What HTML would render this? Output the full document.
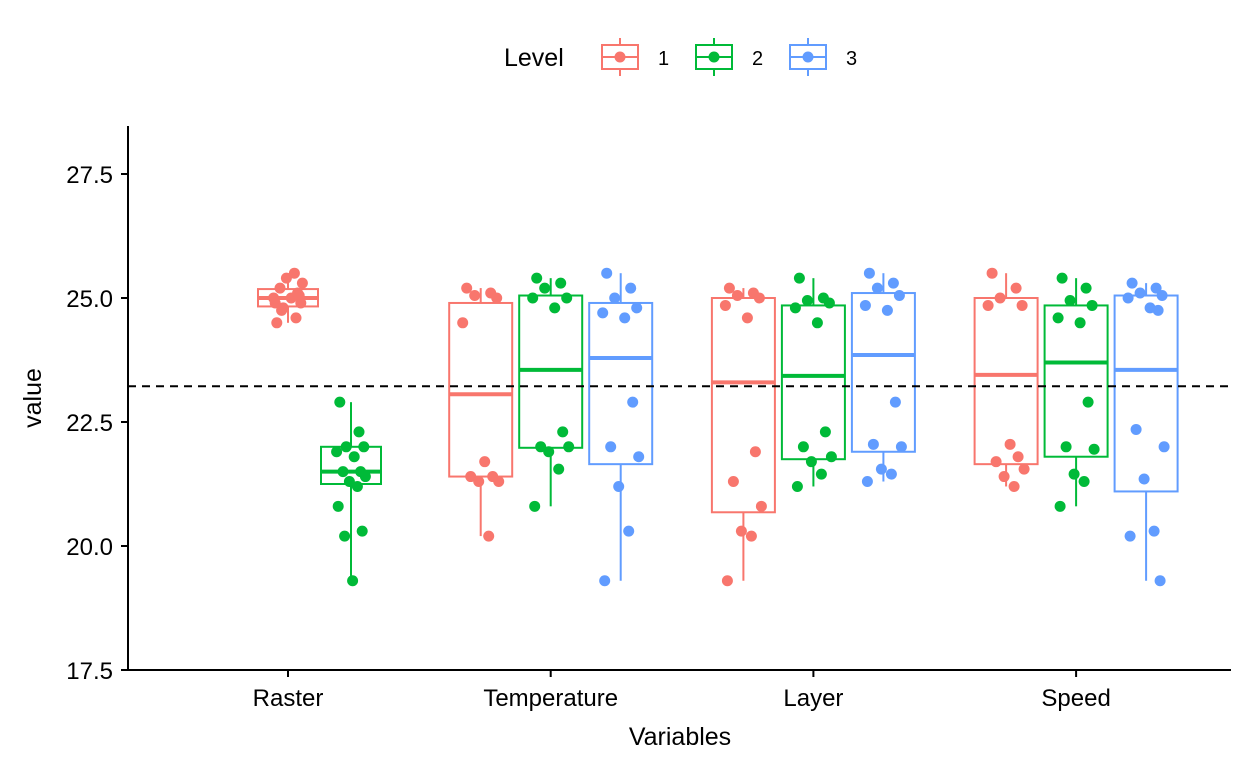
<!DOCTYPE html>
<html><head><meta charset="utf-8"><style>
html,body{margin:0;padding:0;background:#fff;}
svg{display:block;font-family:"Liberation Sans",Arial,sans-serif;}
</style></head><body>
<svg id="chart" width="1248" height="768"></svg>
<script>
const categories=["Raster","Temperature","Layer","Speed"];
const levels=["1","2","3"];
const colors=["#F8766D","#00BA38","#619CFF"];
const yTicks=[17.5,20.0,22.5,25.0,27.5];
const refLine=23.22;
// groups: [categoryIndex, level, q1, median, q3]
const boxStats=[
 [0,0,24.83,25.0,25.18],[0,1,21.25,21.5,22.0],
 [1,0,21.4,23.06,24.9],[1,1,21.98,23.55,25.05],[1,2,21.65,23.79,24.9],
 [2,0,20.68,23.3,25.0],[2,1,21.75,23.43,24.85],[2,2,21.9,23.85,25.1],
 [3,0,21.65,23.45,25.0],[3,1,21.8,23.7,24.85],[3,2,21.1,23.55,25.05]
];
const points=[
 [24.5,24.6,24.8,24.9,25.0,25.0,25.1,25.2,25.3,25.4,25.5,24.9,25.05,24.75],
 [22.9,22.3,22.0,22.0,21.9,21.8,21.5,21.5,21.4,21.3,21.2,20.8,20.3,20.2,19.3],
 [25.2,25.1,25.05,25.0,24.5,21.7,21.4,21.4,21.3,21.3,20.2],
 [25.4,25.3,25.2,25.0,25.0,24.8,22.3,22.0,22.0,21.9,21.55,20.8],
 [25.5,25.2,25.0,24.8,24.7,24.6,22.9,22.0,21.8,21.2,20.3,19.3],
 [25.2,25.1,25.05,25.0,24.85,24.6,21.9,21.3,20.8,20.3,20.2,19.3],
 [25.4,25.0,24.95,24.9,24.8,24.5,22.3,22.0,21.8,21.7,21.45,21.2],
 [25.5,25.3,25.2,25.05,24.85,24.75,22.9,22.05,22.0,21.55,21.45,21.3],
 [25.5,25.2,25.0,24.85,24.85,22.05,21.8,21.7,21.55,21.4,21.2],
 [25.4,25.2,24.95,24.85,24.6,24.5,22.9,22.0,21.95,21.45,21.3,20.8],
 [25.3,25.2,25.1,25.05,25.0,24.8,24.75,22.35,22.0,21.35,20.3,20.2,19.3]
];
const jit=[-14,10,-6,16,-18,4,12,-10,18,-2,8,-16,14,-8,2];
const NS="http://www.w3.org/2000/svg";
const svg=document.getElementById("chart");
function y(v){return 670-(v-17.5)*49.6;}
function xc(i){return 288+i*262.7;}
function off(ci,l){if(ci===0)return l===0?0:63;return (l-1)*70;}
function el(t,a,p){const e=document.createElementNS(NS,t);for(const k in a)e.setAttribute(k,a[k]);(p||svg).appendChild(e);return e;}
// axes
let ax=el("line",{x1:128,y1:126,x2:128,y2:671,stroke:"#000","stroke-width":2});


let bx=el("line",{x1:127,y1:670,x2:1231,y2:670,stroke:"#000","stroke-width":2});


yTicks.forEach(v=>{
 el("line",{x1:121,x2:128,y1:y(v),y2:y(v),stroke:"#000","stroke-width":2});
 const t=el("text",{x:113,y:y(v)+9,"text-anchor":"end","font-size":24,fill:"#000"});
 t.textContent=v.toFixed(1);
 
 
});
categories.forEach((c,i)=>{
 el("line",{x1:xc(i),x2:xc(i),y1:670,y2:677,stroke:"#000","stroke-width":2});
 const t=el("text",{x:xc(i),y:706,"text-anchor":"middle","font-size":24,fill:"#000"});
 t.textContent=c;
 
 
});
let xt=el("text",{x:680,y:745,"text-anchor":"middle","font-size":25});xt.textContent="Variables";


let yt=el("text",{x:41,y:398,"text-anchor":"middle","font-size":25,transform:"rotate(-90 41 398)"});yt.textContent="value";


// boxes
boxStats.forEach((b,gi)=>{
 const [ci,l,q1,md,q3]=b;const col=colors[l];
 const cx=xc(ci)+off(ci,l);const w=ci===0?60:63;
 const pts=points[gi];const mn=Math.min(...pts),mx=Math.max(...pts);
 const g=el("g",{});
 
 
 el("line",{x1:cx,x2:cx,y1:y(q3),y2:y(mx),stroke:col,"stroke-width":2},g);
 el("line",{x1:cx,x2:cx,y1:y(q1),y2:y(mn),stroke:col,"stroke-width":2},g);
 el("rect",{x:cx-w/2,y:y(q3),width:w,height:y(q1)-y(q3),fill:"#fff",stroke:col,"stroke-width":2},g);
 el("line",{x1:cx-w/2,x2:cx+w/2,y1:y(md),y2:y(md),stroke:col,"stroke-width":4},g);
});
// ref line
let rl=el("line",{x1:128,x2:1230,y1:y(refLine),y2:y(refLine),stroke:"#000","stroke-width":2,"stroke-dasharray":"8,6"});


// points
boxStats.forEach((b,gi)=>{
 const [ci,l]=b;const cx=xc(ci)+off(ci,l);
 points[gi].forEach((v,k)=>{
  const p=el("circle",{cx:cx+jit[k%jit.length]*(ci===0?0.8:1),cy:y(v),r:5.5,fill:colors[l]});
  
  
 });
});
// legend
let lt=el("text",{x:504,y:66,"font-size":25});lt.textContent="Level";


[600,694,788].forEach((lx,i)=>{
 const g=el("g",{});
 
 
 el("line",{x1:lx+20,x2:lx+20,y1:38,y2:76,stroke:colors[i],"stroke-width":2},g);
 el("rect",{x:lx+2,y:45,width:36,height:24,fill:"#fff",stroke:colors[i],"stroke-width":2},g);
 el("line",{x1:lx+2,x2:lx+38,y1:57,y2:57,stroke:colors[i],"stroke-width":2},g);
 el("circle",{cx:lx+20,cy:57,r:5.5,fill:colors[i]},g);
 const t=el("text",{x:lx+58,y:65,"font-size":20},g);t.textContent=levels[i];
});
</script>
</body></html>
